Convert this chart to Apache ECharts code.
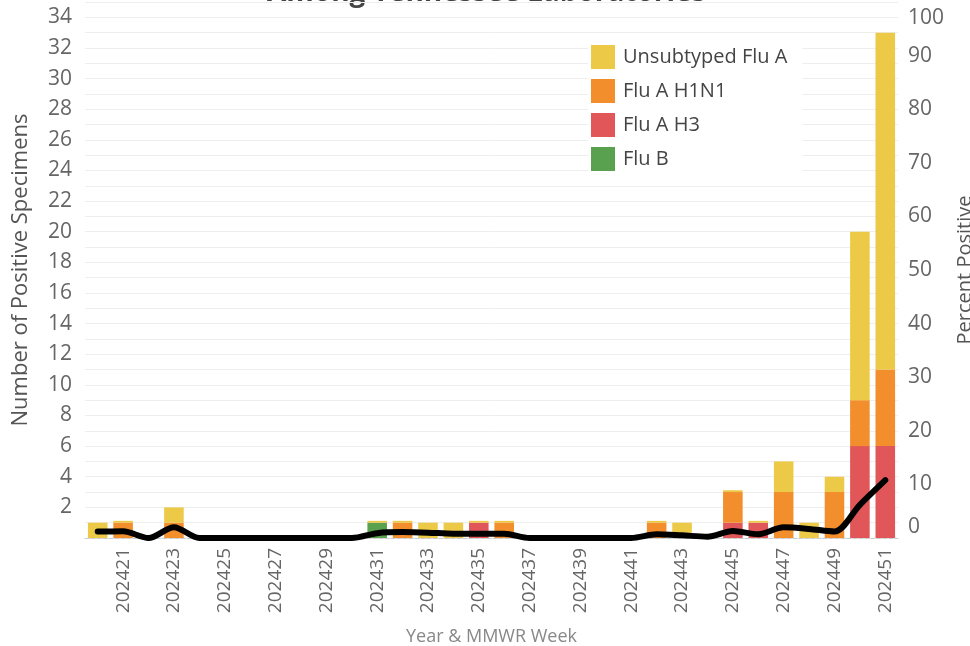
<!DOCTYPE html>
<html>
<head>
<meta charset="utf-8">
<script src="https://cdn.jsdelivr.net/npm/echarts@6/dist/echarts.min.js"></script>
<style>html,body{margin:0;padding:0;background:#fff;}#c{width:970px;height:646px;}</style>
</head>
<body>
<div id="c"></div>
<script>
const weeks = ['202420','202421','202422','202423','202424','202425','202426','202427','202428','202429','202430','202431','202432','202433','202434','202435','202436','202437','202438','202439','202440','202441','202442','202443','202444','202445','202446','202447','202448','202449','202450','202451'];
const unsubtyped = [1,0.12,0,1,0,0,0,0,0,0,0,0.12,0.12,1,1,0.12,0.12,0,0,0,0,0,0.12,1,0,0.12,0.12,2,1,1,11,22];
const h1n1 =       [0,1,0,1,0,0,0,0,0,0,0,0,1,0,0,0,1,0,0,0,0,0,1,0,0,2,0,3,0,3,3,5];
const h3 =         [0,0,0,0,0,0,0,0,0,0,0,0,0,0,0,1,0,0,0,0,0,0,0,0,0,1,1,0,0,0,6,6];
const flub =       [0,0,0,0,0,0,0,0,0,0,0,1,0,0,0,0,0,0,0,0,0,0,0,0,0,0,0,0,0,0,0,0];
const pctPositive = [1.2,1.25,0,2.0,0,0,0,0,0,0,0,0.9,1.1,1.0,0.8,0.8,0.8,0,0,0,0,0,0.7,0.5,0.25,1.3,0.7,2.0,1.7,1.2,6.2,10.8];

const FONT = 'Open Sans';
const chart = echarts.init(document.getElementById('c'), null, {renderer: 'canvas'});
const barBase = {type: 'bar', stack: 'flu', barCategoryGap: '23%', yAxisIndex: 0};
chart.setOption({
  animation: false,
  textStyle: {fontFamily: FONT},
  graphic: [{
    type: 'text', left: 267, top: -21,
    style: {text: 'Among Tennessee Laboratories', font: 'bold 28px "Open Sans"', fill: '#444'}
  }],
  grid: {left: 85, right: 72, top: 2, bottom: 108, outerBoundsMode: 'none', containLabel: false},
  legend: {
    orient: 'vertical', left: 588, top: 39,
    data: ['Unsubtyped Flu A', 'Flu A H1N1', 'Flu A H3', 'Flu B'],
    icon: 'rect', itemWidth: 24, itemHeight: 24, itemGap: 10,
    backgroundColor: '#fff', padding: [6, 15, 6, 3],
    textStyle: {fontFamily: FONT, fontSize: 20, color: '#444', padding: [0, 0, 0, 3]}
  },
  xAxis: {
    type: 'category', data: weeks,
    name: 'Year & MMWR Week', nameLocation: 'middle', nameGap: 90,
    nameTextStyle: {fontFamily: FONT, fontSize: 18, color: '#888'},
    axisLine: {show: true, lineStyle: {color: '#ccc', type: 'dashed', width: 1}},
    axisTick: {show: false},
    axisLabel: {rotate: 90, interval: (i) => i % 2 === 1, margin: 10, fontSize: 19, color: '#666', fontFamily: FONT},
    splitLine: {show: false}
  },
  yAxis: [{
    type: 'value', min: 0, max: 35, interval: 1,
    name: 'Number of Positive Specimens', nameLocation: 'middle', nameGap: 53,
    nameTextStyle: {fontFamily: FONT, fontSize: 22, color: '#555'},
    axisLine: {show: false}, axisTick: {show: false},
    axisLabel: {fontSize: 21, color: '#666', margin: 13, fontFamily: FONT,
      formatter: (v) => (v > 0 && v < 35 && v % 2 === 0) ? String(v) : ''},
    splitLine: {show: true, lineStyle: {color: '#eee', width: 1}}
  }, {
    type: 'value', min: 0, max: 100, interval: 10, position: 'right',
    name: 'Percent Positive', nameLocation: 'middle', nameGap: 52,
    nameTextStyle: {fontFamily: FONT, fontSize: 20, color: '#555'},
    axisLine: {show: false}, axisTick: {show: false},
    axisLabel: {fontSize: 21, color: '#666', margin: 10, fontFamily: FONT,
      verticalAlignMaxLabel: 'top', verticalAlignMinLabel: 'bottom',
      formatter: (v) => v === 100 ? '{t|100}' : String(v),
      rich: {t: {fontSize: 21, color: '#666', fontFamily: FONT, padding: [6, 0, 0, 0]}}},
    splitLine: {show: false}
  }],
  series: [
    Object.assign({}, barBase, {name: 'Flu B', data: flub, itemStyle: {color: '#59A14F'}}),
    Object.assign({}, barBase, {name: 'Flu A H3', data: h3, itemStyle: {color: '#E15759'}}),
    Object.assign({}, barBase, {name: 'Flu A H1N1', data: h1n1, itemStyle: {color: '#F28E2B'}}),
    Object.assign({}, barBase, {name: 'Unsubtyped Flu A', data: unsubtyped, itemStyle: {color: '#EDC948'}}),
    {name: 'Percent Positive', type: 'line', yAxisIndex: 1, data: pctPositive,
     smooth: 0.3, symbol: 'none', z: 10,
     lineStyle: {color: '#000', width: 6, cap: 'round', join: 'round'}}
  ]
});
</script>
</body>
</html>
